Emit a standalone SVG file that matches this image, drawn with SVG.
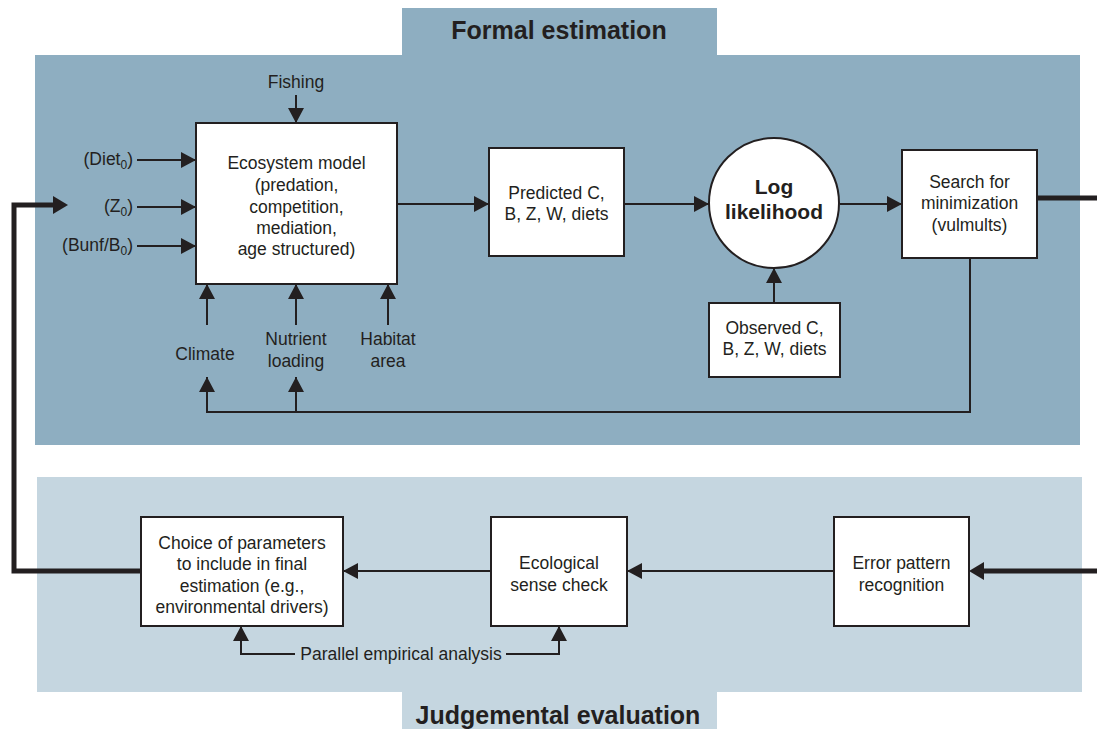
<svg xmlns="http://www.w3.org/2000/svg" width="1097" height="729" viewBox="0 0 1097 729">
<style>
text{font-family:"Liberation Sans",Arial,sans-serif;fill:#231f20;font-size:17.5px;text-anchor:middle}
.t{font-weight:bold;font-size:25px}
.b{font-weight:bold;font-size:21px}
.box{fill:#fff;stroke:#231f20;stroke-width:2}
.ln{fill:none;stroke:#231f20;stroke-width:2}
.thk{fill:none;stroke:#231f20;stroke-width:5}
.l{text-anchor:end}
</style>
<defs>
<marker id="a" markerUnits="userSpaceOnUse" markerWidth="15" markerHeight="16" viewBox="0 0 15 16" refX="15" refY="8" orient="auto"><path d="M0,0 L15,8 L0,16 z" fill="#231f20"/></marker>
<marker id="at" markerUnits="userSpaceOnUse" markerWidth="15" markerHeight="18" viewBox="0 0 15 18" refX="5" refY="9" orient="auto"><path d="M0,0 L15,9 L0,18 z" fill="#231f20"/></marker>
</defs>
<g id="panels">
<rect x="402" y="8" width="315" height="48" fill="#8eaec1"/>
<rect x="35" y="55" width="1045" height="390" fill="#8eaec1"/>
<text class="t" x="559" y="39">Formal estimation</text>
<rect x="37" y="477" width="1045" height="215" fill="#c5d6e0"/>
<rect x="402" y="691" width="315" height="38" fill="#c5d6e0"/>
<text class="t" x="558" y="724">Judgemental evaluation</text>
</g>
<g id="connectors">
<path class="ln" d="M296,95 V123" marker-end="url(#a)"/>
<path class="ln" d="M137,160 H196" marker-end="url(#a)"/>
<path class="ln" d="M137,207 H196" marker-end="url(#a)"/>
<path class="ln" d="M137,246 H196" marker-end="url(#a)"/>
<path class="ln" d="M207,325 V284" marker-end="url(#a)"/>
<path class="ln" d="M296,325 V284" marker-end="url(#a)"/>
<path class="ln" d="M388,325 V284" marker-end="url(#a)"/>
<path class="ln" d="M397,204 H489" marker-end="url(#a)"/>
<path class="ln" d="M624,204 H709" marker-end="url(#a)"/>
<path class="ln" d="M840,204 H902" marker-end="url(#a)"/>
<path class="ln" d="M774,303 V268" marker-end="url(#a)"/>
<path class="ln" d="M970,258 V412 H207 V377" marker-end="url(#a)"/>
<path class="ln" d="M296,412 V377" marker-end="url(#a)"/>
<path class="thk" d="M1037,198 H1097"/>
<path class="thk" d="M141,571 H14 V205 H58" marker-end="url(#at)"/>
<path class="thk" d="M1097,571 H979" marker-end="url(#at)"/>
<path class="ln" d="M834,571 H627" marker-end="url(#a)"/>
<path class="ln" d="M491,571 H343" marker-end="url(#a)"/>
<path class="ln" d="M295,654 H241 V626" marker-end="url(#a)"/>
<path class="ln" d="M506,654 H559 V626" marker-end="url(#a)"/>
<text x="401" y="660">Parallel empirical analysis</text>
</g>
<g id="inputs">
<text x="296" y="88">Fishing</text>
<text class="l" x="133" y="165">(Diet<tspan dy="4" font-size="12">0</tspan><tspan dy="-4">)</tspan></text>
<text class="l" x="133" y="212">(Z<tspan dy="4" font-size="12">0</tspan><tspan dy="-4">)</tspan></text>
<text class="l" x="133" y="251">(Bunf/B<tspan dy="4" font-size="12">0</tspan><tspan dy="-4">)</tspan></text>
<text x="205" y="360">Climate</text>
<text x="296" y="345">Nutrient</text>
<text x="296" y="367">loading</text>
<text x="388" y="345">Habitat</text>
<text x="388" y="367">area</text>
</g>
<g id="ecosystem">
<rect class="box" x="196" y="123" width="201" height="161"/>
<text x="296.5" y="169">Ecosystem model</text>
<text x="296.5" y="191">(predation,</text>
<text x="296.5" y="213">competition,</text>
<text x="296.5" y="234">mediation,</text>
<text x="296.5" y="255">age structured)</text>
</g>
<g id="predicted">
<rect class="box" x="489" y="148" width="135" height="108"/>
<text x="556.5" y="199">Predicted C,</text>
<text x="556.5" y="220">B, Z, W, diets</text>
</g>
<g id="loglik">
<circle cx="774" cy="203" r="65" fill="#fff" stroke="#231f20" stroke-width="2"/>
<text class="b" x="774" y="194">Log</text>
<text class="b" x="774" y="219">likelihood</text>
</g>
<g id="observed">
<rect class="box" x="709" y="303" width="131" height="74"/>
<text x="774.5" y="334">Observed C,</text>
<text x="774.5" y="355">B, Z, W, diets</text>
</g>
<g id="search">
<rect class="box" x="902" y="150" width="135" height="108"/>
<text x="969.5" y="188">Search for</text>
<text x="969.5" y="209">minimization</text>
<text x="969.5" y="231">(vulmults)</text>
</g>
<g id="choice">
<rect class="box" x="141" y="517" width="202" height="109"/>
<text x="242" y="549">Choice of parameters</text>
<text x="242" y="570">to include in final</text>
<text x="242" y="592">estimation (e.g.,</text>
<text x="242" y="613">environmental drivers)</text>
</g>
<g id="ecological">
<rect class="box" x="491" y="517" width="136" height="109"/>
<text x="559" y="569">Ecological</text>
<text x="559" y="591">sense check</text>
</g>
<g id="error">
<rect class="box" x="834" y="517" width="135" height="109"/>
<text x="901.5" y="569">Error pattern</text>
<text x="901.5" y="591">recognition</text>
</g>
</svg>
